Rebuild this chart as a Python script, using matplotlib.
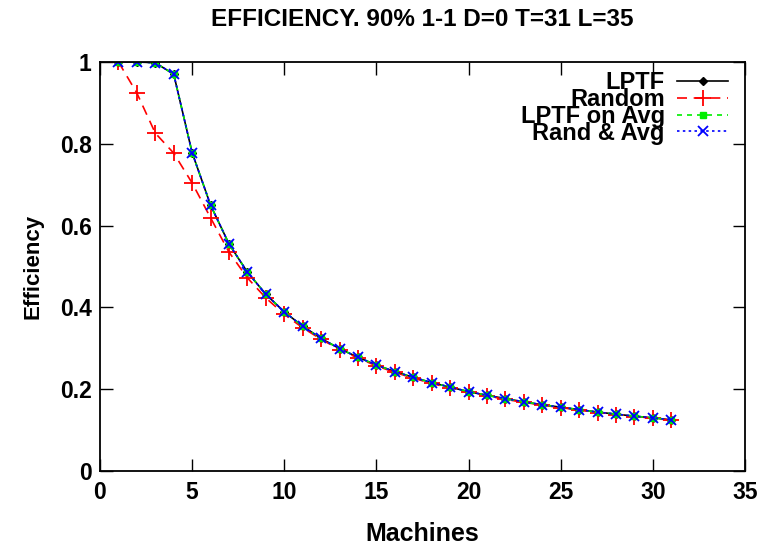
import matplotlib.pyplot as plt
from matplotlib.ticker import FuncFormatter

plt.rcParams['font.family'] = ['Liberation Sans', 'DejaVu Sans']
plt.rcParams['font.weight'] = 'bold'

machines = list(range(1, 32))
lptf = [1.0, 1.0, 0.998, 0.970, 0.778, 0.650, 0.555, 0.486, 0.432, 0.389,
        0.354, 0.324, 0.299, 0.278, 0.259, 0.243, 0.229, 0.216, 0.205, 0.194,
        0.185, 0.177, 0.169, 0.162, 0.156, 0.150, 0.144, 0.139, 0.134, 0.130,
        0.125]
random_ = [1.0, 0.924, 0.826, 0.777, 0.704, 0.619, 0.535, 0.472, 0.423, 0.383,
           0.350, 0.322, 0.297, 0.276, 0.257, 0.241, 0.227, 0.214, 0.203, 0.193,
           0.184, 0.175, 0.168, 0.161, 0.155, 0.149, 0.143, 0.138, 0.133, 0.129,
           0.124]
lptf_avg = list(lptf)
rand_avg = list(lptf)

fig = plt.figure(figsize=(7.61, 5.48), dpi=100)
ax = fig.add_axes([0.1314, 0.1405, 0.8476, 0.7465])

ax.plot(machines, lptf, color='black', lw=1.2, marker='D', ms=4, label='LPTF')
ax.plot(machines, random_, color='red', lw=1.2, ls=(0, (6, 4)), marker='+',
        ms=11, mew=1.3, label='Random')
ax.plot(machines, lptf_avg, color='#00ee00', lw=1.2, ls=(0, (3, 3)), marker='s',
        ms=5, label='LPTF on Avg')
ax.plot(machines, rand_avg, color='blue', lw=1.2, ls=(0, (1.5, 2)), marker='x',
        ms=7, mew=1.3, label='Rand & Avg')

ax.set_xlim(0, 35)
ax.set_ylim(0, 1)
ax.set_xticks(range(0, 36, 5))
ax.set_yticks([0, 0.2, 0.4, 0.6, 0.8, 1.0])
ax.yaxis.set_major_formatter(FuncFormatter(lambda v, p: '%g' % v))
ax.tick_params(direction='in', length=9, width=1, top=True, right=True,
               labelsize=16.5)
ax.tick_params(axis='x', pad=7)
ax.tick_params(axis='y', pad=6)
for s in ax.spines.values():
    s.set_linewidth(1.3)

ax.set_title('EFFICIENCY. 90% 1-1 D=0 T=31 L=35', fontsize=17.5,
             fontweight='bold', pad=26)
ax.set_xlabel('Machines', fontsize=18, fontweight='bold', labelpad=13)
ax.set_ylabel('Efficiency', fontsize=16, fontweight='bold', labelpad=12)

leg = ax.legend(loc='upper right', bbox_to_anchor=(1.0, 1.018), markerfirst=False,
                frameon=False, fontsize=17, handlelength=2.2,
                labelspacing=-0.26, handletextpad=0.5, borderaxespad=0.4,
                borderpad=0.3)
for t in leg.get_texts():
    t.set_ha('right')
    t.set_fontweight('bold')

fig.savefig('out.png', dpi=100)
